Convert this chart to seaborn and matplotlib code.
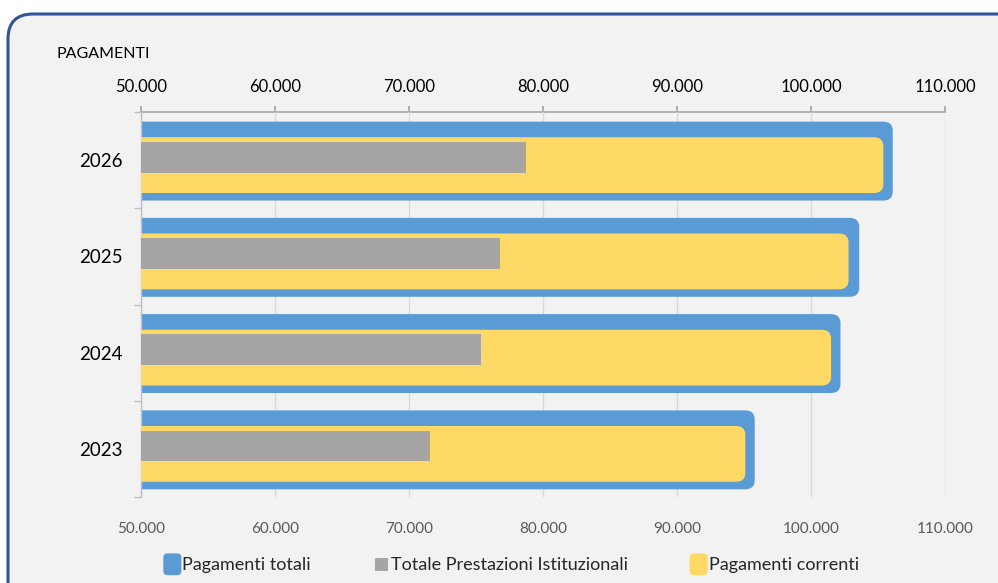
import pandas as pd
import numpy as np
import matplotlib.pyplot as plt
import seaborn as sns
from matplotlib.patches import FancyBboxPatch, Rectangle
from matplotlib.legend_handler import HandlerPatch
from matplotlib.ticker import FuncFormatter

# dati
anni = ['2026', '2025', '2024', '2023']
pagamenti_totali = [106100, 103600, 102200, 95800]
prestazioni_istituzionali = [78700, 76800, 75400, 71600]
pagamenti_correnti = [105400, 102800, 101500, 95100]
x_ticks = [50000, 60000, 70000, 80000, 90000, 100000, 110000]

df = pd.DataFrame({'anno': anni,
                   'totali': pagamenti_totali,
                   'prestazioni': prestazioni_istituzionali,
                   'correnti': pagamenti_correnti})

BLU = '#5B9BD5'
GIALLO = '#FFD966'
GRIGIO = '#A5A5A5'
FONDO = '#F2F2F2'

sns.set_theme(style='white')
plt.rcParams['font.family'] = ['Lato', 'DejaVu Sans']

fig = plt.figure(figsize=(9.98, 5.83), dpi=100)
fig.patch.set_facecolor('white')

# cornice arrotondata
cornice = FancyBboxPatch((0.08, -0.3), 10.2, 5.99,
                         boxstyle='round,pad=0,rounding_size=0.25',
                         transform=fig.dpi_scale_trans,
                         facecolor=FONDO, edgecolor='#2F5597', linewidth=2.2, zorder=0)
fig.add_artist(cornice)

ax = fig.add_axes([141/998, 1-497/583, 804/998, 385/583])
ax.set_facecolor('none')

sns.barplot(data=df, y='anno', x='totali', order=anni, color=BLU, width=0.82,
            orient='h', ax=ax, saturation=1, linewidth=0, zorder=2)
sns.barplot(data=df, y='anno', x='correnti', order=anni, color=GIALLO, width=0.58,
            orient='h', ax=ax, saturation=1, linewidth=0, zorder=3)
sns.barplot(data=df, y='anno', x='prestazioni', order=anni, color=GRIGIO, width=0.32,
            orient='h', ax=ax, saturation=1, linewidth=0, zorder=4)

ax.set_xlim(50000, 110000)

# spostamento verticale delle serie come nell'originale (Excel sovrappone le barre)
spost = [0.01, 0.052, -0.03]
asp = (9 / 96.25) / 700
handles = []
for i, cont in enumerate(ax.containers):
    first = None
    for rect in cont:
        rect.set_y(rect.get_y() + spost[i])
        rect.set_edgecolor('none')
        if i == 2:
            first = first or rect
            continue
        x, y = rect.get_x(), rect.get_y()
        w, h = rect.get_width(), rect.get_height()
        rect.set_visible(False)
        p = FancyBboxPatch((x, y), w, h, boxstyle='round,pad=0,rounding_size=700',
                           mutation_aspect=asp, facecolor=rect.get_facecolor(),
                           edgecolor='none', zorder=rect.get_zorder())
        ax.add_patch(p)
        first = first or p
    handles.append(first)

fmt = FuncFormatter(lambda v, _: f'{v:,.0f}'.replace(',', '.'))
ax.set_xticks(x_ticks)
ax.xaxis.set_major_formatter(fmt)
ax.grid(axis='x', color='#D9D9D9', linewidth=1, zorder=0)
ax.set_axisbelow(True)
ax.tick_params(axis='x', bottom=False, labelsize=11, labelcolor='#595959', pad=12)

ax.set_xlabel('')
ax.set_ylabel('')
ax.set_yticks(np.arange(-0.5, 4, 1), minor=True)
ax.tick_params(axis='y', which='minor', left=True, length=5, color='#BFBFBF', width=1)
ax.tick_params(axis='y', which='major', left=False, length=0, labelsize=13.5,
               labelcolor='black', pad=13)

for s in ['top', 'right', 'bottom']:
    ax.spines[s].set_visible(False)
ax.spines['left'].set_color('#BFBFBF')
ax.spines['left'].set_linewidth(1)

sec = ax.secondary_xaxis('top')
sec.set_xticks(x_ticks)
sec.xaxis.set_major_formatter(fmt)
sec.tick_params(axis='x', top=True, direction='out', length=4, color='#A6A6A6',
                labelsize=12, labelcolor='black', pad=8)
sec.spines['top'].set_color('#A6A6A6')
sec.spines['top'].set_linewidth(1.2)

fig.text(57/998, 1-54/583, 'PAGAMENTI', fontsize=11.5, color='black', va='center', ha='left')


def rounded(legend, orig_handle, xdescent, ydescent, width, height, fontsize):
    if not isinstance(orig_handle, FancyBboxPatch):
        s = height * 0.8
        return Rectangle((-xdescent + (width - s) / 2, -ydescent + (height - s) / 2), s, s)
    hh = height * 1.4
    return FancyBboxPatch((-xdescent, -ydescent - (hh - height) / 2), width, hh,
                          boxstyle='round,pad=0,rounding_size=3')


etichette = ['Pagamenti totali', 'Totale Prestazioni Istituzionali', 'Pagamenti correnti']
ordine = [handles[0], handles[2], handles[1]]
fig.legend(ordine, etichette, loc='center', bbox_to_anchor=(511/998, 1-565/583),
           ncol=3, frameon=False, fontsize=13, handlelength=1.0, handleheight=0.95,
           handletextpad=0.05, columnspacing=3.4,
           handler_map={type(h): HandlerPatch(patch_func=rounded) for h in ordine})

fig.savefig('out.png', dpi=100)
